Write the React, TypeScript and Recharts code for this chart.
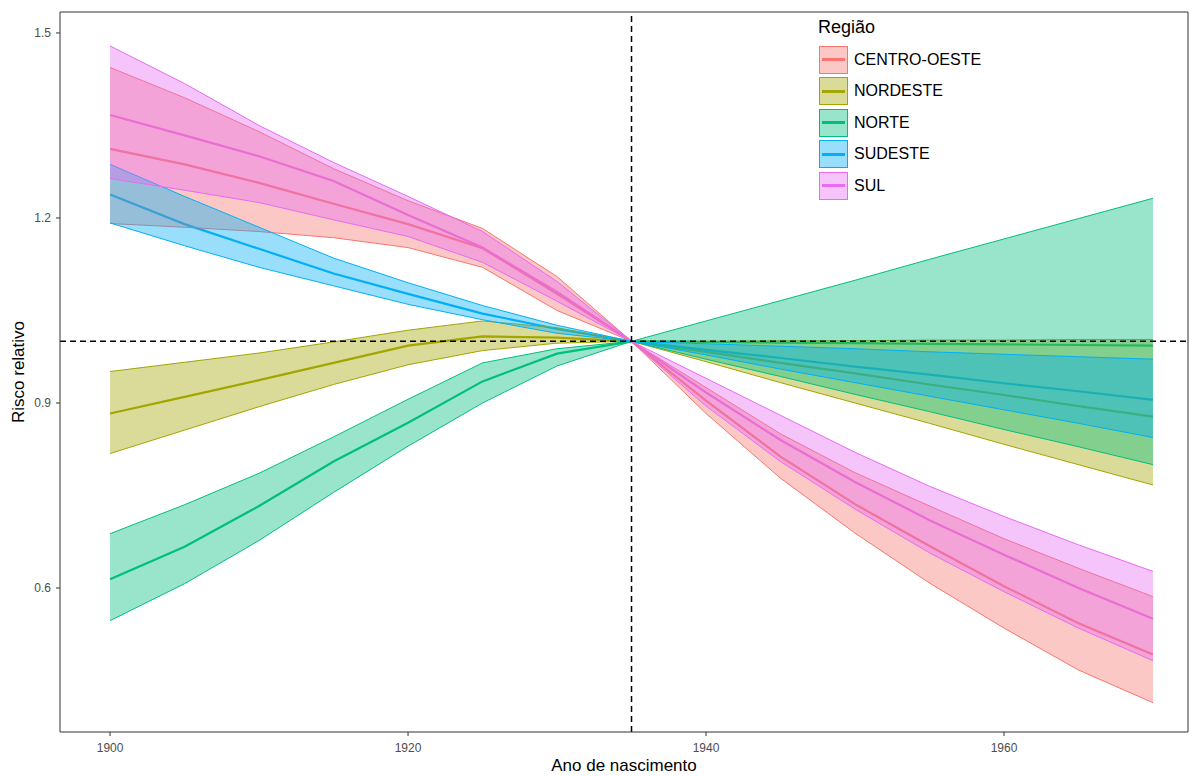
import { ComposedChart, Area, Line, XAxis, YAxis, ReferenceLine } from "recharts";

const years = [1900, 1905, 1910, 1915, 1920, 1925, 1930, 1935, 1940, 1945, 1950, 1955, 1960, 1965, 1970];

// risco relativo por região: estimativa, limite inferior, limite superior
const coMid = [1.312, 1.287, 1.257, 1.223, 1.19, 1.151, 1.077, 1.0, 0.904, 0.813, 0.736, 0.668, 0.603, 0.543, 0.492];
const coLow = [1.191, 1.185, 1.178, 1.168, 1.152, 1.12, 1.05, 1.0, 0.883, 0.778, 0.689, 0.608, 0.535, 0.467, 0.414];
const coHigh = [1.444, 1.395, 1.34, 1.28, 1.228, 1.183, 1.105, 1.0, 0.925, 0.85, 0.787, 0.733, 0.68, 0.632, 0.586];

const neMid = [0.883, 0.91, 0.937, 0.965, 0.993, 1.008, 1.006, 1.0, 0.983, 0.965, 0.948, 0.93, 0.913, 0.895, 0.878];
const neLow = [0.818, 0.856, 0.894, 0.93, 0.962, 0.985, 0.997, 1.0, 0.967, 0.933, 0.9, 0.867, 0.833, 0.8, 0.767];
const neHigh = [0.951, 0.966, 0.981, 0.999, 1.018, 1.033, 1.022, 1.0, 1.0, 1.001, 1.001, 1.002, 1.002, 1.003, 1.003];

const noMid = [0.614, 0.667, 0.733, 0.805, 0.868, 0.935, 0.98, 1.0, 0.999, 0.998, 0.997, 0.996, 0.995, 0.994, 0.993];
const noLow = [0.547, 0.607, 0.677, 0.755, 0.83, 0.9, 0.96, 1.0, 0.971, 0.943, 0.914, 0.886, 0.857, 0.829, 0.8];
const noHigh = [0.688, 0.735, 0.786, 0.845, 0.906, 0.965, 0.988, 1.0, 1.033, 1.066, 1.099, 1.133, 1.166, 1.199, 1.232];

const seMid = [1.238, 1.19, 1.15, 1.11, 1.077, 1.045, 1.02, 1.0, 0.986, 0.973, 0.959, 0.946, 0.932, 0.919, 0.905];
const seLow = [1.192, 1.155, 1.12, 1.09, 1.06, 1.035, 1.013, 1.0, 0.978, 0.955, 0.933, 0.911, 0.889, 0.867, 0.844];
const seHigh = [1.287, 1.235, 1.185, 1.135, 1.095, 1.058, 1.026, 1.0, 0.996, 0.992, 0.988, 0.983, 0.979, 0.975, 0.971];

const suMid = [1.367, 1.334, 1.3, 1.26, 1.205, 1.152, 1.08, 1.0, 0.917, 0.84, 0.772, 0.71, 0.654, 0.6, 0.55];
const suLow = [1.264, 1.245, 1.225, 1.197, 1.17, 1.128, 1.065, 1.0, 0.895, 0.805, 0.728, 0.657, 0.594, 0.535, 0.482];
const suHigh = [1.479, 1.418, 1.35, 1.29, 1.235, 1.178, 1.097, 1.0, 0.94, 0.88, 0.82, 0.765, 0.716, 0.67, 0.627];

const xTicks = [1900, 1920, 1940, 1960];
const yTicks = [0.6, 0.9, 1.2, 1.5];

const regions = [
  { key: "co", name: "CENTRO-OESTE", color: "#F8766D", mid: coMid, lo: coLow, hi: coHigh },
  { key: "ne", name: "NORDESTE", color: "#A3A500", mid: neMid, lo: neLow, hi: neHigh },
  { key: "no", name: "NORTE", color: "#00BF7D", mid: noMid, lo: noLow, hi: noHigh },
  { key: "se", name: "SUDESTE", color: "#00B0F6", mid: seMid, lo: seLow, hi: seHigh },
  { key: "su", name: "SUL", color: "#E76BF3", mid: suMid, lo: suLow, hi: suHigh },
];

const data = years.map((year, i) => {
  const row: Record<string, number | number[]> = { year };
  regions.forEach((r) => {
    row[r.key] = r.mid[i];
    row[r.key + "Band"] = [r.lo[i], r.hi[i]];
  });
  return row;
});

const font = "'Liberation Sans', Arial, sans-serif";
const xDomain = [1896.64, 1972.35];
const yDomain = [0.3665, 1.534];

function RegionLegend() {
  return (
    <div style={{ position: "absolute", left: 818, top: 17, fontFamily: font, color: "#000" }}>
      <div style={{ fontSize: 18, height: 27 }}>Região</div>
      {regions.map((r) => (
        <div key={r.key} style={{ display: "flex", alignItems: "center", height: 31.5 }}>
          <div
            style={{
              position: "relative",
              width: 27,
              height: 26,
              border: `1.5px solid ${r.color}`,
              background: r.color + "66",
              marginLeft: 1,
            }}
          >
            <div
              style={{
                position: "absolute",
                left: 2,
                right: 2,
                top: 11.5,
                height: 3,
                background: r.color,
              }}
            />
          </div>
          <span style={{ fontSize: 16, marginLeft: 6 }}>{r.name}</span>
        </div>
      ))}
    </div>
  );
}

export default function App() {
  return (
    <div style={{ position: "absolute", left: 0, top: 0, width: 1194, height: 776, background: "#fff" }}>
      <ComposedChart width={1194} height={776} data={data} margin={{ top: 12, right: 6, bottom: 0, left: 0 }}>
        <XAxis
          dataKey="year"
          type="number"
          domain={xDomain}
          ticks={xTicks}
          allowDataOverflow
          height={44}
          tickSize={4}
          tickMargin={7}
          stroke="#333333"
          tick={{ fill: "#4d4d4d", fontSize: 12, fontFamily: font }}
          label={{
            value: "Ano de nascimento",
            position: "insideBottom",
            offset: 5,
            style: { fontSize: 17, fontFamily: font, fill: "#000" },
          }}
        />
        <YAxis
          type="number"
          domain={yDomain}
          ticks={yTicks}
          allowDataOverflow
          width={60}
          tickSize={4}
          tickMargin={5}
          stroke="#333333"
          tickFormatter={(v: number) => v.toFixed(1)}
          tick={{ fill: "#4d4d4d", fontSize: 12, fontFamily: font }}
          label={{
            value: "Risco relativo",
            angle: -90,
            position: "insideLeft",
            offset: 18,
            style: { fontSize: 17, fontFamily: font, fill: "#000", textAnchor: "middle" },
          }}
        />
        {regions.map((r) => (
          <Line
            key={r.key + "line"}
            type="linear"
            dataKey={r.key}
            stroke={r.color}
            strokeWidth={2.2}
            dot={false}
            isAnimationActive={false}
            zIndex={90}
          />
        ))}
        {regions.map((r) => (
          <Area
            key={r.key + "band"}
            type="linear"
            dataKey={r.key + "Band"}
            stroke={r.color}
            strokeWidth={1}
            fill={r.color}
            fillOpacity={0.4}
            isAnimationActive={false}
          />
        ))}
        <ReferenceLine x={1935} stroke="#000" strokeDasharray="6 4" strokeWidth={1.5} />
        <ReferenceLine y={1} stroke="#000" strokeDasharray="6 4" strokeWidth={1.5} />
        {/* panel border, top and right */}
        <ReferenceLine y={yDomain[1]} stroke="#333333" strokeWidth={1} />
        <ReferenceLine x={xDomain[1]} stroke="#333333" strokeWidth={1} />
      </ComposedChart>
      <RegionLegend />
    </div>
  );
}
